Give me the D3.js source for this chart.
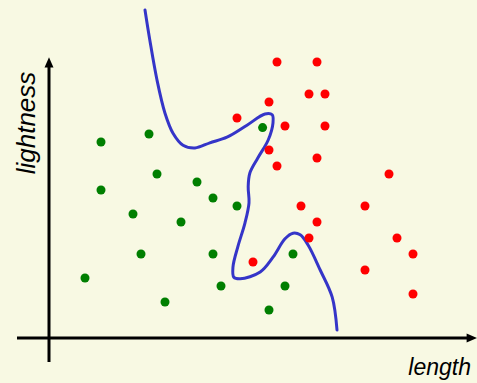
<!DOCTYPE html>
<html>
<head>
<meta charset="utf-8">
<script src="https://cdn.jsdelivr.net/npm/d3@7"></script>
<style>
  html, body { margin: 0; padding: 0; background: #f8f9e3; }
  svg { display: block; }
</style>
</head>
<body>
<svg id="chart" width="477" height="383"></svg>
<script>
// Data in grid units (length, lightness)
const greenX = [7, 13, 27.2, 14, 19, 7, 21, 24, 11, 17, 12, 21, 31, 5, 22, 30, 15, 28];
const greenY = [24, 25, 25.8, 20, 19, 18, 17, 16, 15, 14, 10, 10, 10, 7, 6, 6, 4, 3];

const redX = [29, 34, 33, 35, 28, 24, 30, 35, 28, 29, 34, 43, 32, 40, 34, 33, 26, 44, 46, 40, 46];
const redY = [34, 34, 30, 30, 29, 27, 26, 26, 23, 21, 22, 20, 16, 16, 14, 12, 9, 12, 10, 8, 5];

// Decision boundary
const boundaryX = [12.5, 13.1, 14, 15, 16, 17.25, 18.75, 20.6, 22.75, 25.25, 27.5, 28.4, 28.5, 27.9, 26.6, 25.6, 25.4, 25.5, 25, 24.1, 23.5, 23.6, 24.4, 26.9, 28.5, 30, 31, 31.9, 32.9, 34.4, 35.9, 36.5];
const boundaryY = [40.5, 36.75, 31.75, 27.6, 25.1, 23.6, 23.25, 23.9, 24.6, 26.1, 27.5, 27.4, 26.4, 24.25, 22, 20.1, 18.4, 16.4, 13.9, 10.9, 8.4, 7.1, 6.9, 7.75, 9.6, 11.9, 12.6, 12.4, 11.1, 8, 4.6, 0.5];

const xLabel = "length";
const yLabel = "lightness";

const svg = d3.select("#chart");
const x = d3.scaleLinear().domain([0, 54]).range([45, 477]);
const y = d3.scaleLinear().domain([0, 42]).range([334, -2]);

// axes
const axisColor = "#000";
svg.append("line")
  .attr("x1", x(0.5)).attr("x2", x(0.5))
  .attr("y1", y(-3.5)).attr("y2", y(33.5))
  .attr("stroke", axisColor).attr("stroke-width", 3);
svg.append("path")
  .attr("d", `M${x(0.5)},${y(34.6)} L${x(0.5) - 4.5},${y(33.3)} L${x(0.5) + 4.5},${y(33.3)} Z`)
  .attr("fill", axisColor);

svg.append("line")
  .attr("x1", x(-3.5)).attr("x2", x(52.8))
  .attr("y1", y(-0.5)).attr("y2", y(-0.5))
  .attr("stroke", axisColor).attr("stroke-width", 3);
svg.append("path")
  .attr("d", `M${x(54)},${y(-0.5)} L${x(52.7)},${y(-0.5) - 4.5} L${x(52.7)},${y(-0.5) + 4.5} Z`)
  .attr("fill", axisColor);

// labels
svg.append("text")
  .attr("transform", `translate(35,123) rotate(-90)`)
  .attr("text-anchor", "middle")
  .attr("font-family", "Liberation Sans, Arial, sans-serif")
  .attr("font-style", "italic")
  .attr("font-size", 26)
  .attr("fill", "#000")
  .text(yLabel);

svg.append("text")
  .attr("x", 471).attr("y", 375)
  .attr("text-anchor", "end")
  .attr("font-family", "Liberation Sans, Arial, sans-serif")
  .attr("font-style", "italic")
  .attr("font-size", 23)
  .attr("fill", "#000")
  .text(xLabel);

// boundary
const pts = boundaryX.map((d, i) => [d, boundaryY[i]]);
const line = d3.line().x(d => x(d[0])).y(d => y(d[1])).curve(d3.curveCatmullRom.alpha(0.5));
svg.append("path")
  .attr("d", line(pts))
  .attr("fill", "none")
  .attr("stroke", "#3535c8")
  .attr("stroke-width", 3)
  .attr("stroke-linecap", "round")
  .attr("stroke-linejoin", "round");

// points
svg.selectAll("circle.g").data(greenX.map((d, i) => [d, greenY[i]])).enter()
  .append("circle").attr("class", "g")
  .attr("cx", d => x(d[0])).attr("cy", d => y(d[1])).attr("r", 4.5)
  .attr("fill", "#007f00");

svg.selectAll("circle.r").data(redX.map((d, i) => [d, redY[i]])).enter()
  .append("circle").attr("class", "r")
  .attr("cx", d => x(d[0])).attr("cy", d => y(d[1])).attr("r", 4.5)
  .attr("fill", "#ff0000");
</script>
</body>
</html>
